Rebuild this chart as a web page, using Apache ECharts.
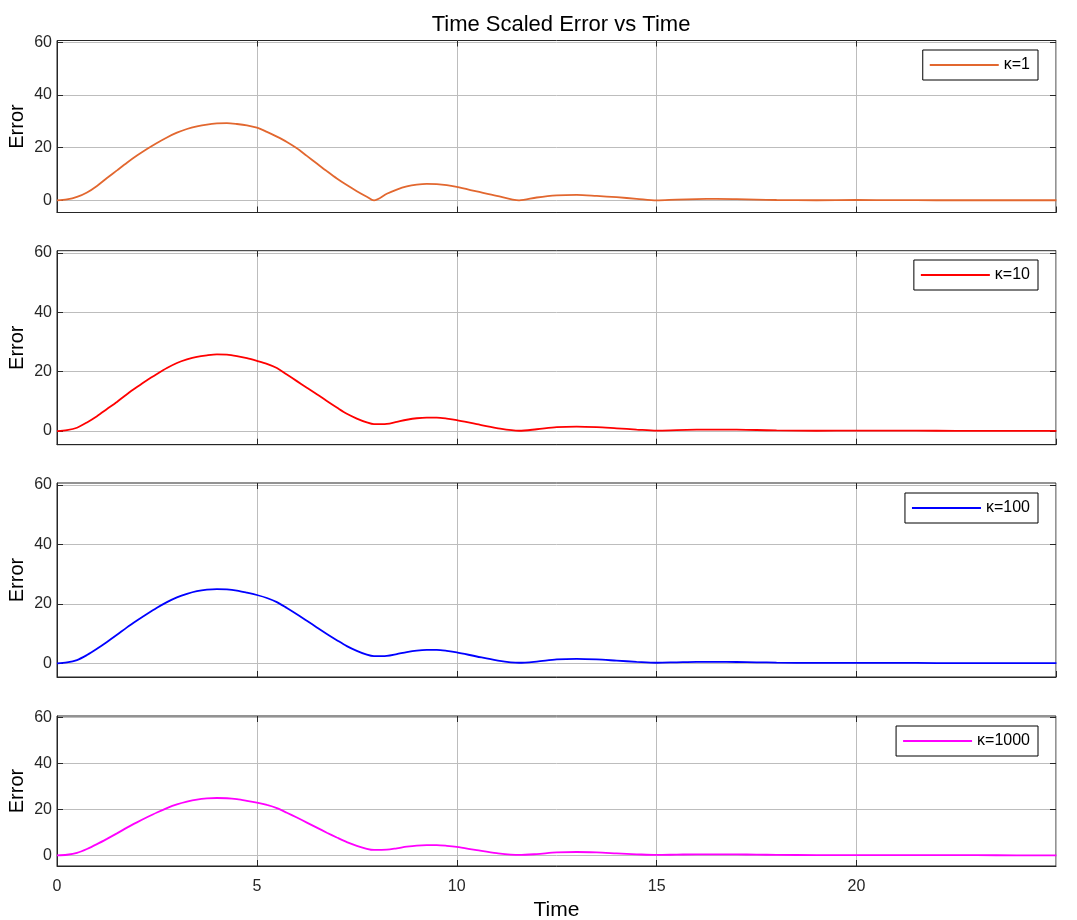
<!DOCTYPE html>
<html>
<head>
<meta charset="utf-8">
<script src="https://cdn.jsdelivr.net/npm/echarts@6/dist/echarts.min.js"></script>
<style>
html,body{margin:0;padding:0;background:#fff;}
#c{width:1077px;height:920px;}
</style>
</head>
<body>
<div id="c"></div>
<script>
var title = 'Time Scaled Error vs Time';
var seriesNames = ['κ=1', 'κ=10', 'κ=100', 'κ=1000'];
var seriesColors = ['#e2672f', '#ff0000', '#0000ff', '#ff00ff'];
var xTicks = [0, 5, 10, 15, 20];
var yTicks = [0, 20, 40, 60];

var time = [0,0.25,0.5,0.75,1,1.25,1.5,1.75,2,2.25,2.5,2.75,3,3.25,3.5,3.75,4,4.25,4.5,4.75,5,5.25,5.5,5.75,6,6.25,6.5,6.75,7,7.25,7.5,7.75,7.93,8.25,8.5,8.75,9,9.25,9.5,9.75,10,10.5,11,11.56,12,12.5,13,13.5,14,14.5,15,15.5,16,16.5,17,17.5,18,19,20,21,22,23,24,25];

var errK1 = [0,0.35,1.3,3.0,5.5,8.5,11.4,14.3,17.0,19.5,21.8,23.9,25.7,27.1,28.1,28.8,29.2,29.3,29.0,28.5,27.6,26.0,24.2,22.2,19.8,16.9,14.0,11.1,8.3,5.8,3.5,1.4,0,2.5,4.1,5.3,6.0,6.3,6.2,5.8,5.1,3.4,1.7,0,1.1,1.9,2.1,1.7,1.2,0.6,0,0.3,0.5,0.55,0.45,0.3,0.15,0.05,0.15,0.1,0.05,0.05,0.05,0.05];

var errK10 = [0,0.3,1.1,2.9,5.0,7.4,9.8,12.4,14.8,17.1,19.2,21.2,22.9,24.1,25.0,25.5,25.8,25.7,25.2,24.5,23.6,22.6,21.2,19.0,16.8,14.6,12.4,10.1,7.9,5.8,4.2,2.9,2.3,2.4,3.1,3.8,4.3,4.5,4.5,4.2,3.7,2.3,1.0,0.1,0.6,1.3,1.5,1.3,0.9,0.5,0.15,0.3,0.45,0.5,0.45,0.35,0.2,0.1,0.15,0.15,0.1,0.05,0.05,0.05];

var errK100 = [0,0.3,1.1,2.8,4.9,7.2,9.6,12.1,14.4,16.6,18.7,20.6,22.2,23.4,24.3,24.8,25.0,24.9,24.5,23.8,23.0,22.0,20.6,18.6,16.5,14.3,12.1,9.9,7.8,5.8,4.2,2.9,2.4,2.5,3.1,3.8,4.3,4.5,4.5,4.2,3.7,2.3,1.0,0.2,0.6,1.3,1.5,1.3,0.9,0.5,0.2,0.35,0.5,0.5,0.45,0.35,0.25,0.15,0.15,0.15,0.1,0.1,0.05,0.05];

var errK1000 = [0,0.3,1.1,2.8,4.9,7.2,9.6,12.1,14.4,16.6,18.7,20.6,22.2,23.4,24.3,24.8,25.0,24.9,24.5,23.8,23.0,22.0,20.6,18.6,16.5,14.3,12.1,9.9,7.8,5.8,4.2,2.9,2.4,2.5,3.1,3.8,4.3,4.5,4.5,4.2,3.7,2.3,1.0,0.2,0.6,1.3,1.5,1.3,0.9,0.5,0.2,0.35,0.5,0.5,0.45,0.35,0.25,0.15,0.15,0.15,0.1,0.1,0.05,0.05];

var allErr = [errK1, errK10, errK100, errK1000];

var gridTops = [40.5, 250.7, 483, 716];
var gridHeights = [172, 194, 194, 150];
var legendTops = [50, 260, 493, 726];

var X_MIN = 0, X_MAX = 24.99, Y_MIN = -4.6, Y_MAX = 60.7;
var PLOT_W = 1077 - 57 - 21;
var TICK_PX = 6;

var FONT = 'Liberation Sans, Arial, sans-serif';
var axisColor = '#262626';
var gridColor = '#bdbdbd';

var grids = [], xAxes = [], yAxes = [], series = [], legends = [];
for (var i = 0; i < 4; i++) {
  grids.push({left: 57, right: 21, top: gridTops[i], height: gridHeights[i], show: true, borderColor: axisColor, borderWidth: 1, backgroundColor: '#fff', containLabel: false, outerBoundsMode: 'none'});
  var last = (i === 3);
  xAxes.push({
    type: 'value', gridIndex: i, min: X_MIN, max: X_MAX, interval: 5, position: 'bottom',
    axisLine: {show: true, onZero: false, lineStyle: {color: axisColor, width: 1}},
    axisTick: {show: true, inside: true, length: TICK_PX, lineStyle: {color: axisColor}},
    axisLabel: {show: last, color: axisColor, fontSize: 16, fontFamily: FONT, margin: 13, showMaxLabel: false},
    splitLine: {show: true, lineStyle: {color: gridColor, width: 1}},
    name: last ? 'Time' : '', nameLocation: 'middle', nameGap: 34,
    nameTextStyle: {color: '#000', fontSize: 21, fontFamily: FONT}
  });
  yAxes.push({
    type: 'value', gridIndex: i, min: Y_MIN, max: Y_MAX, position: 'left',
    axisLine: {show: true, onZero: false, lineStyle: {color: axisColor, width: 1}},
    axisTick: {show: false},
    axisLabel: {show: true, color: axisColor, fontSize: 16, fontFamily: FONT, margin: 5, customValues: yTicks},
    splitLine: {show: false},
    name: 'Error', nameLocation: 'middle', nameGap: 30, nameRotate: 90, nameMoveOverlap: false,
    nameTextStyle: {color: '#000', fontSize: 20, fontFamily: FONT}
  });
  var pts = [];
  for (var k = 0; k < time.length; k++) pts.push([time[k], allErr[i][k]]);

  // horizontal grid lines at the y tick values, plus inward box ticks
  var dx = TICK_PX * (X_MAX - X_MIN) / PLOT_W;
  var dy = TICK_PX * (Y_MAX - Y_MIN) / gridHeights[i];
  var tickStyle = {color: axisColor, width: 1, type: 'solid'};
  var ml = yTicks.map(function (v) { return {yAxis: v}; });
  yTicks.forEach(function (v) {
    ml.push([{coord: [X_MIN, v], lineStyle: tickStyle}, {coord: [X_MIN + dx, v]}]);
    ml.push([{coord: [X_MAX - dx, v], lineStyle: tickStyle}, {coord: [X_MAX, v]}]);
  });
  xTicks.forEach(function (v) {
    ml.push([{coord: [v, Y_MAX], lineStyle: tickStyle}, {coord: [v, Y_MAX - dy]}]);
  });

  series.push({
    name: seriesNames[i], type: 'line', xAxisIndex: i, yAxisIndex: i,
    data: pts, symbol: 'none', smooth: 0.3, color: seriesColors[i],
    lineStyle: {width: 1.8, color: seriesColors[i]},
    z: 5,
    markLine: {
      silent: true, symbol: 'none', label: {show: false},
      lineStyle: {color: gridColor, width: 1, type: 'solid'},
      data: ml, animation: false, z: 1
    }
  });
  legends.push({
    data: [{name: seriesNames[i], icon: 'rect'}], right: 39, top: legendTops[i],
    orient: 'horizontal', itemWidth: 69, itemHeight: 2, itemGap: 4,
    borderColor: '#000', borderWidth: 1, padding: [7, 8, 7, 7],
    backgroundColor: '#fff',
    textStyle: {color: '#000', fontSize: 16, fontFamily: FONT}
  });
}

var chart = echarts.init(document.getElementById('c'), null, {renderer: 'canvas'});
chart.setOption({
  animation: false,
  backgroundColor: '#fff',
  title: {text: title, left: 556, textAlign: 'center', top: 9, textStyle: {color: '#000', fontSize: 22, fontWeight: 'normal', fontFamily: FONT}},
  grid: grids, xAxis: xAxes, yAxis: yAxes, series: series, legend: legends
});
</script>
</body>
</html>
